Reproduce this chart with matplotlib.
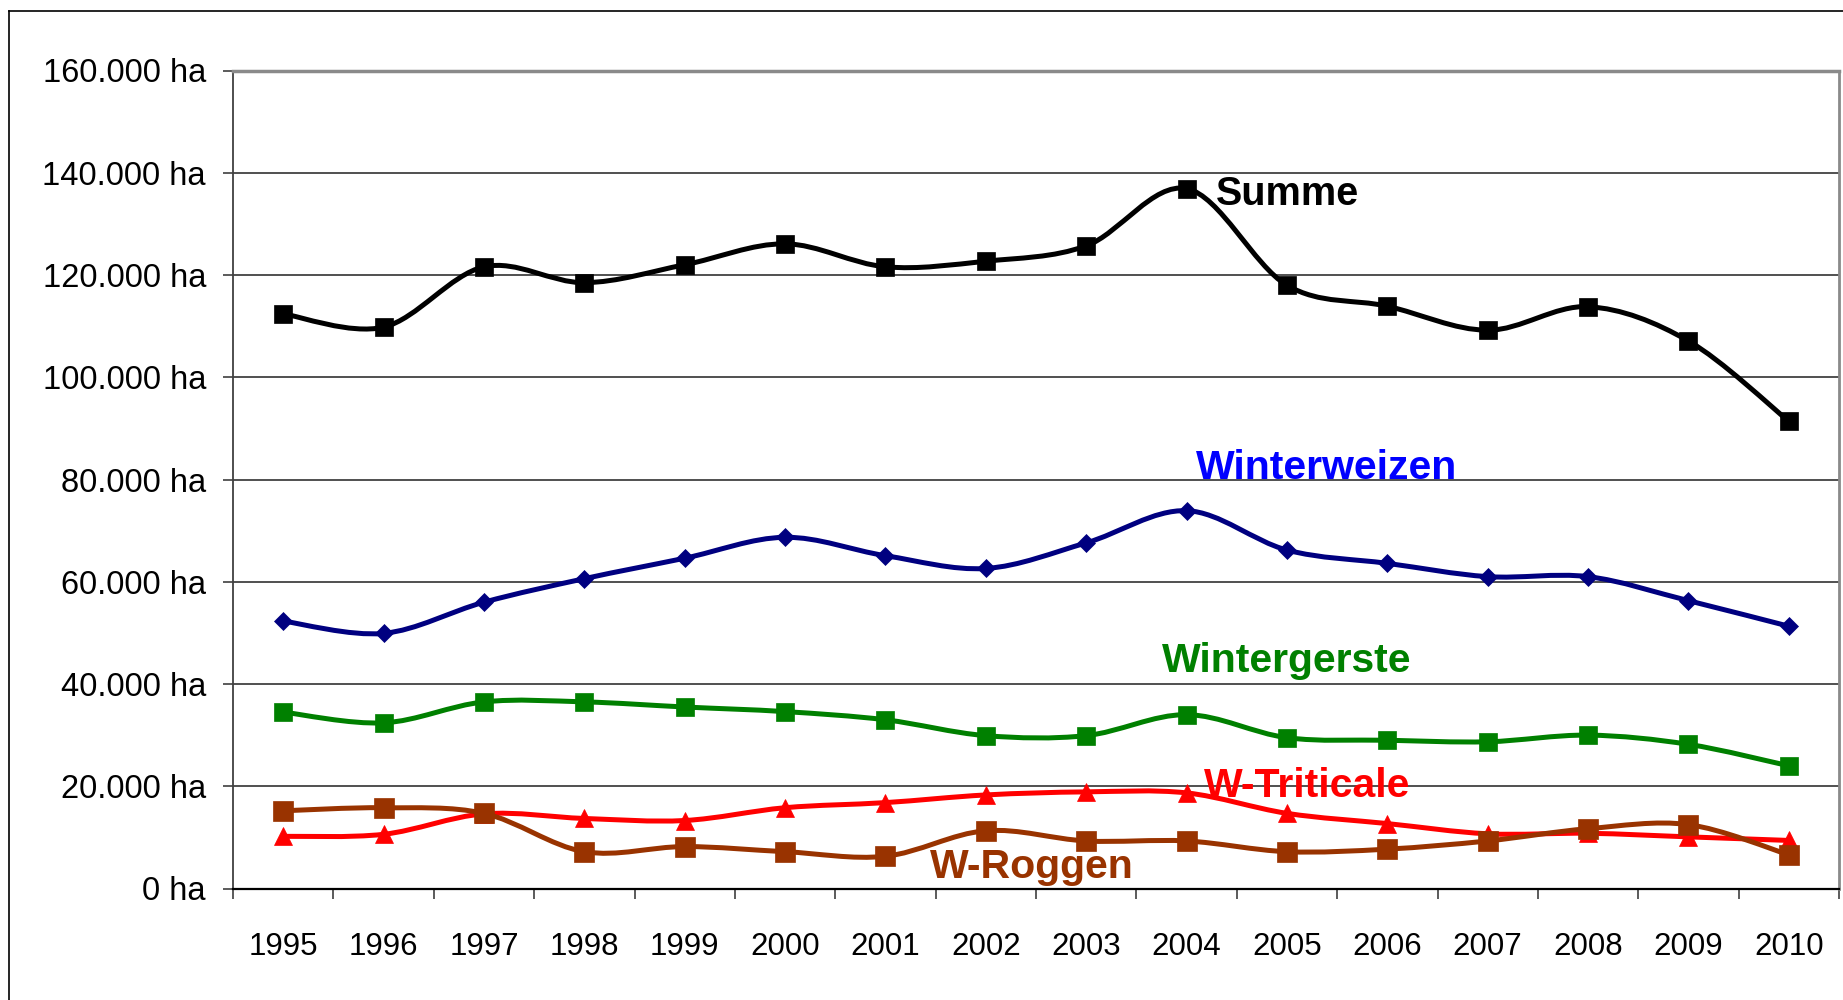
import matplotlib
matplotlib.use('Agg')
import matplotlib.pyplot as plt
import numpy as np
from matplotlib.path import Path
from matplotlib.patches import PathPatch
from matplotlib.lines import Line2D

plt.rcParams['font.family'] = ['Liberation Sans', 'DejaVu Sans']

years = ['1995', '1996', '1997', '1998', '1999', '2000', '2001', '2002',
         '2003', '2004', '2005', '2006', '2007', '2008', '2009', '2010']
summe = [112400, 109800, 121600, 118500, 122000, 126100, 121600, 122700,
         125700, 136900, 118000, 113900, 109200, 113800, 107100, 91400]
winterweizen = [52300, 49900, 56000, 60600, 64600, 68700, 65100, 62600,
                67600, 73900, 66200, 63600, 61000, 61000, 56300, 51300]
wintergerste = [34500, 32400, 36500, 36500, 35500, 34600, 33000, 29900,
                29900, 34000, 29500, 29000, 28700, 30000, 28200, 24000]
triticale = [10200, 10600, 14600, 13700, 13300, 15800, 16800, 18300,
             18900, 18700, 14700, 12700, 10700, 10800, 10100, 9400]
roggen = [15200, 15800, 14700, 7200, 8200, 7200, 6300, 11300,
          9300, 9300, 7200, 7700, 9300, 11700, 12500, 6600]
yticks = [0, 20000, 40000, 60000, 80000, 100000, 120000, 140000, 160000]


def smooth_path(x, y):
    x = np.asarray(x, float)
    y = np.asarray(y, float)
    n = len(x)
    verts = [(x[0], y[0])]
    codes = [Path.MOVETO]
    for i in range(n - 1):
        p0 = i - 1 if i > 0 else i
        p3 = i + 2 if i + 2 < n else i + 1
        c1 = (x[i] + (x[i + 1] - x[p0]) / 6, y[i] + (y[i + 1] - y[p0]) / 6)
        c2 = (x[i + 1] - (x[p3] - x[i]) / 6, y[i + 1] - (y[p3] - y[i]) / 6)
        verts += [c1, c2, (x[i + 1], y[i + 1])]
        codes += [Path.CURVE4] * 3
    return Path(verts, codes)


W, H = 1843, 1000
fig = plt.figure(figsize=(W / 100, H / 100), dpi=100)
L, R, T, B = 233, 1839, 70.5, 888.5
ax = fig.add_axes([L / W, 1 - B / H, (R - L) / W, (B - T) / H])

x = np.arange(len(years))
series = [
    (summe, 'black', 's', 13.0, 'Summe'),
    (winterweizen, '#000080', 'D', 9.0, 'Winterweizen'),
    (wintergerste, '#008000', 's', 13.0, 'Wintergerste'),
    (triticale, '#FF0000', '^', 12.5, 'W-Triticale'),
    (roggen, '#993300', 's', 15.0, 'W-Roggen'),
]
for k, (vals, col, mk, ms, name) in enumerate(series):
    patch = PathPatch(smooth_path(x, vals), facecolor='none', edgecolor=col,
                      lw=3.6, zorder=3 + 2 * k, capstyle='round', joinstyle='round')
    ax.add_patch(patch)
    ax.plot(x, vals, linestyle='none', marker=mk, markersize=ms, color=col,
            markeredgecolor=col, markeredgewidth=0.5, zorder=4 + 2 * k)

ax.set_xlim(-0.5, len(years) - 0.5)
ax.set_ylim(0, 160000)
ax.set_yticks(yticks)
ax.set_yticklabels([(f"{v:,}".replace(',', '.')) + ' ha' for v in yticks])
ax.set_xticks(x)
ax.set_xticklabels(years)
ax.set_xticks(np.arange(-0.5, len(years)), minor=True)
ax.tick_params(axis='x', which='major', length=0, pad=31, labelsize=22.5)
ax.tick_params(axis='x', which='minor', length=7.5, width=1.2, color='#404040', direction='out')
ax.tick_params(axis='y', which='major', length=7.5, width=1.2, color='#404040',
               direction='out', pad=12, labelsize=23.5)
ax.yaxis.grid(True, color='#202020', lw=1.1)
ax.set_axisbelow(True)

ax.spines['left'].set_color('#404040')
ax.spines['left'].set_linewidth(1.3)
ax.spines['bottom'].set_color('black')
ax.spines['bottom'].set_linewidth(1.6)
ax.spines['top'].set_color('#8a8a8a')
ax.spines['top'].set_linewidth(2.5)
ax.spines['right'].set_color('#8a8a8a')
ax.spines['right'].set_linewidth(2.0)

lab_kw = dict(fontweight='bold', ha='left', va='center', zorder=20)
ax.text(9.29, 135800, 'Summe', color='black', fontsize=28.5, **lab_kw)
ax.text(9.09, 82300, 'Winterweizen', color='#0000FF', fontsize=29.5, **lab_kw)
ax.text(8.75, 44500, 'Wintergerste', color='#008000', fontsize=29.5, **lab_kw)
ax.text(9.17, 20100, 'W-Triticale', color='#FF0000', fontsize=29.5, **lab_kw)
ax.text(6.44, 4300, 'W-Roggen', color='#993300', fontsize=29.5, **lab_kw)

# outer chart frame
fx, fy = 9 / W, 1 - 11 / H
fig.add_artist(Line2D([fx, fx], [0, fy], color='black', lw=1.2, transform=fig.transFigure))
fig.add_artist(Line2D([fx, 1], [fy, fy], color='black', lw=1.2, transform=fig.transFigure))

fig.savefig('out.png', dpi=100)
